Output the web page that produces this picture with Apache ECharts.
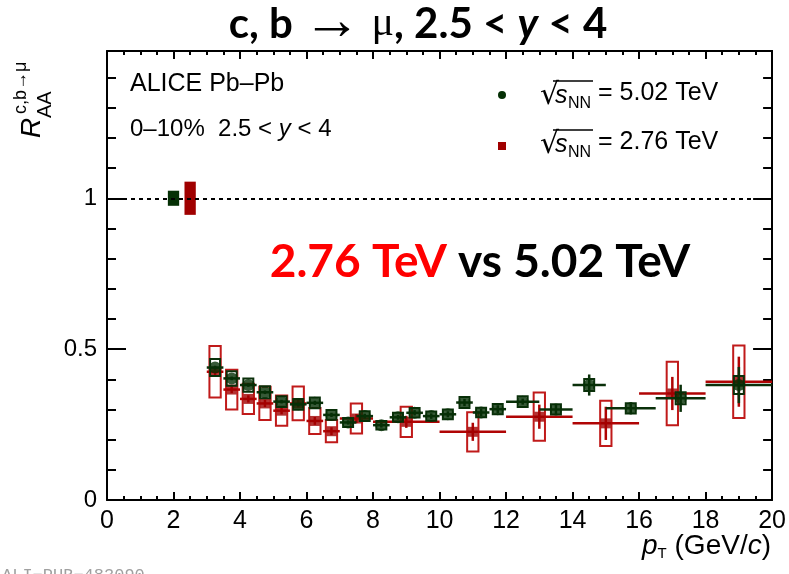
<!DOCTYPE html>
<html>
<head>
<meta charset="utf-8">
<script src="https://cdn.jsdelivr.net/npm/echarts@6/dist/echarts.min.js"></script>
<style>
html, body { margin: 0; padding: 0; background: #ffffff; }
#chart { width: 789px; height: 574px; }
</style>
</head>
<body>
<div id="chart"></div>
<script>
// sqrt(sNN) = 5.02 TeV: bin centres, bin edges, R_AA, stat. and syst. uncertainties
const pt502    = [3.25, 3.75, 4.25, 4.75, 5.25, 5.75, 6.25, 6.75, 7.25, 7.75, 8.25, 8.75, 9.25, 9.75, 10.25, 10.75, 11.25, 11.75, 12.5, 13.5, 14.5, 15.75, 17.25, 19];
const ptLo502  = [3, 3.5, 4, 4.5, 5, 5.5, 6, 6.5, 7, 7.5, 8, 8.5, 9, 9.5, 10, 10.5, 11, 11.5, 12, 13, 14, 15, 16.5, 18];
const ptHi502  = [3.5, 4, 4.5, 5, 5.5, 6, 6.5, 7, 7.5, 8, 8.5, 9, 9.5, 10, 10.5, 11, 11.5, 12, 13, 14, 15, 16.5, 18, 20];
const raa502   = [0.439, 0.403, 0.381, 0.357, 0.326, 0.317, 0.322, 0.282, 0.257, 0.278, 0.248, 0.274, 0.289, 0.278, 0.284, 0.323, 0.290, 0.301, 0.326, 0.300, 0.381, 0.304, 0.337, 0.381];
const stat502  = [0.006, 0.006, 0.006, 0.006, 0.006, 0.006, 0.007, 0.007, 0.007, 0.008, 0.008, 0.008, 0.009, 0.009, 0.010, 0.012, 0.012, 0.013, 0.010, 0.015, 0.035, 0.020, 0.045, 0.060];
const syst502  = [0.028, 0.024, 0.022, 0.020, 0.018, 0.018, 0.018, 0.016, 0.015, 0.016, 0.014, 0.015, 0.016, 0.015, 0.016, 0.018, 0.016, 0.017, 0.018, 0.017, 0.020, 0.017, 0.020, 0.030];

// sqrt(sNN) = 2.76 TeV
const pt276    = [3.25, 3.75, 4.25, 4.75, 5.25, 5.75, 6.25, 6.75, 7.5, 9, 11, 13, 15, 17, 19];
const ptLo276  = [3, 3.5, 4, 4.5, 5, 5.5, 6, 6.5, 7, 8, 10, 12, 14, 16, 18];
const ptHi276  = [3.5, 4, 4.5, 5, 5.5, 6, 6.5, 7, 8, 10, 12, 14, 16, 18, 20];
const raa276   = [0.425, 0.366, 0.335, 0.320, 0.296, 0.320, 0.262, 0.228, 0.270, 0.259, 0.226, 0.276, 0.254, 0.353, 0.392];
const stat276  = [0.012, 0.012, 0.012, 0.012, 0.012, 0.013, 0.013, 0.013, 0.015, 0.020, 0.030, 0.040, 0.055, 0.055, 0.083];
const syst276  = [0.085, 0.066, 0.050, 0.055, 0.050, 0.056, 0.043, 0.037, 0.050, 0.050, 0.065, 0.080, 0.075, 0.105, 0.120];

// normalisation uncertainties (boxes at unity)
const normUnc502 = 0.025;
const normUnc276 = 0.055;

// axis ticks
const xTicks = [0, 2, 4, 6, 8, 10, 12, 14, 16, 18, 20];
const yTickLabels = ['0', '0.5', '1'];

const GREEN = '#053005';
const GREEN_LINE = '#0a300a';
const RED = '#a00000';
const RED_LINE = '#b00404';
const RED_BOX = '#c01a1a';
const FONT = '"Liberation Sans", Arial, Helvetica, sans-serif';
const TITLE_FONT = 'Lato, "Open Sans", sans-serif';

const chart = echarts.init(document.getElementById('chart'), null, { renderer: 'canvas' });

function rows(pt, lo, hi, val, st, sy) {
  return pt.map((p, i) => [p, val[i], lo[i], hi[i], st[i], sy[i]]);
}
const data502 = rows(pt502, ptLo502, ptHi502, raa502, stat502, syst502);
const data276 = rows(pt276, ptLo276, ptHi276, raa276, stat276, syst276);

// systematic boxes: open rectangles of fixed pT half-width
function systBox(color, halfW, lw) {
  return function (params, api) {
    const x = api.value(0), y = api.value(1), s = api.value(5);
    const a = api.coord([x - halfW, y + s]);
    const b = api.coord([x + halfW, y - s]);
    return {
      type: 'rect',
      shape: { x: a[0], y: a[1], width: b[0] - a[0], height: b[1] - a[1] },
      style: { fill: 'none', stroke: color, lineWidth: lw }
    };
  };
}

// statistical error bars with horizontal bin-width bars
function errBars(color, lw) {
  return function (params, api) {
    const x = api.value(0), y = api.value(1), lo = api.value(2), hi = api.value(3), st = api.value(4);
    const l = api.coord([lo, y]), r = api.coord([hi, y]);
    const t = api.coord([x, y + st]), b = api.coord([x, y - st]);
    return {
      type: 'group',
      children: [
        { type: 'line', shape: { x1: l[0], y1: l[1], x2: r[0], y2: r[1] }, style: { stroke: color, lineWidth: lw } },
        { type: 'line', shape: { x1: t[0], y1: t[1], x2: b[0], y2: b[1] }, style: { stroke: color, lineWidth: lw } }
      ]
    };
  };
}

// filled normalisation box at R_AA = 1
function normBox(color, xc, halfW) {
  return function (params, api) {
    const u = api.value(1);
    const a = api.coord([xc - halfW, 1 + u]);
    const b = api.coord([xc + halfW, 1 - u]);
    return {
      type: 'rect',
      shape: { x: a[0], y: a[1], width: b[0] - a[0], height: b[1] - a[1] },
      style: { fill: color }
    };
  };
}

const baseAxisX = {
  type: 'value', min: 0, max: 20, interval: 2,
  axisLine: { show: true, onZero: false, lineStyle: { color: '#000', width: 2 } },
  axisTick: { show: true, inside: true, length: 8, lineStyle: { color: '#000', width: 2 } },
  minorTick: { show: true, splitNumber: 4, length: 4, lineStyle: { color: '#000', width: 2 } },
  splitLine: { show: false },
  minorSplitLine: { show: false }
};
const baseAxisY = {
  type: 'value', min: 0, max: 1.488, interval: 0.5,
  axisLine: { show: true, onZero: false, lineStyle: { color: '#000', width: 2 } },
  axisTick: { show: true, inside: true, length: 19, lineStyle: { color: '#000', width: 2 } },
  minorTick: { show: true, splitNumber: 5, length: 9, lineStyle: { color: '#000', width: 2 } },
  splitLine: { show: false },
  minorSplitLine: { show: false }
};

const option = {
  animation: false,
  backgroundColor: '#ffffff',
  grid: { left: 107, right: 13, top: 51, bottom: 74, containLabel: false },
  xAxis: [
    Object.assign({}, baseAxisX, {
      position: 'bottom',
      axisLabel: {
        show: true, margin: 9, color: '#000', fontSize: 25, fontFamily: FONT,
        formatter: v => (xTicks.indexOf(v) >= 0 ? String(v) : '')
      }
    }),
    Object.assign({}, baseAxisX, { position: 'top', axisLabel: { show: false } })
  ],
  yAxis: [
    Object.assign({}, baseAxisY, {
      position: 'left',
      axisLabel: {
        show: true, margin: 10, color: '#000', fontSize: 24, fontFamily: FONT,
        showMaxLabel: false,
        formatter: v => {
          const s = String(Math.round(v * 10) / 10);
          return yTickLabels.indexOf(s) >= 0 ? s : '';
        }
      }
    }),
    Object.assign({}, baseAxisY, { position: 'right', axisLabel: { show: false } })
  ],
  series: [
    {
      type: 'custom', name: 'norm502', xAxisIndex: 0, yAxisIndex: 0, z: 3,
      renderItem: normBox(GREEN, 2.0, 0.17), data: [[2.0, normUnc502]],
      markLine: {
        silent: true, symbol: 'none', label: { show: false },
        lineStyle: { color: '#000', width: 2, type: [4, 4] },
        data: [{ yAxis: 1 }]
      }
    },
    { type: 'custom', name: 'norm276', z: 3, renderItem: normBox(RED, 2.5, 0.17), data: [[2.5, normUnc276]] },
    { type: 'custom', name: 'syst276', z: 4, renderItem: systBox(RED_BOX, 0.17, 2), data: data276, clip: true },
    { type: 'custom', name: 'err276', z: 5, renderItem: errBars(RED_LINE, 2.5), data: data276, clip: true },
    {
      type: 'scatter', name: '2.76', z: 6, symbol: 'rect', symbolSize: 10,
      itemStyle: { color: RED }, data: data276.map(d => [d[0], d[1]])
    },
    { type: 'custom', name: 'syst502', z: 7, renderItem: systBox(GREEN_LINE, 0.15, 2), data: data502, clip: true },
    { type: 'custom', name: 'err502', z: 8, renderItem: errBars(GREEN_LINE, 2.5), data: data502, clip: true },
    {
      type: 'scatter', name: '5.02', z: 9, symbol: 'circle', symbolSize: 12,
      itemStyle: { color: GREEN }, data: data502.map(d => [d[0], d[1]])
    }
  ],
  graphic: [
    // title
    {
      type: 'text', x: 418, y: 24, z: 20,
      style: {
        text: '{b|c, b }{a|→}{n| μ}{b|, 2.5 < }{i|y}{b| < 4}',
        align: 'center', verticalAlign: 'middle',
        fill: '#000',
        rich: {
          b: { fontFamily: TITLE_FONT, fontWeight: 'bold', fontSize: 42, fill: '#000' },
          a: { fontFamily: '"Liberation Serif", serif', fontWeight: 'normal', fontSize: 58, fill: '#000' },
          n: { fontFamily: '"Liberation Serif", serif', fontWeight: 'normal', fontSize: 42, fill: '#000' },
          i: { fontFamily: TITLE_FONT, fontWeight: 'bold', fontStyle: 'italic', fontSize: 42, fill: '#000' }
        }
      }
    },
    // in-plot caption
    {
      type: 'text', x: 130, y: 84, z: 20,
      style: { text: 'ALICE Pb–Pb', font: '25px ' + FONT, fill: '#000', verticalAlign: 'middle' }
    },
    {
      type: 'text', x: 130, y: 129, z: 20,
      style: {
        text: '{r|0–10%  2.5 < }{i|y}{r| < 4}', verticalAlign: 'middle',
        rich: {
          r: { fontFamily: FONT, fontSize: 24, fill: '#000' },
          i: { fontFamily: FONT, fontStyle: 'italic', fontSize: 24, fill: '#000' }
        }
      }
    },
    // legend
    { type: 'circle', shape: { cx: 502, cy: 95, r: 4 }, style: { fill: GREEN }, z: 20 },
    { type: 'rect', shape: { x: 498, y: 142, width: 8, height: 8 }, style: { fill: RED }, z: 20 },
    { type: 'text', x: 540, y: 96, z: 20, style: { text: '√', font: '30px "DejaVu Sans"', fill: '#000', verticalAlign: 'middle' } },
    { type: 'line', shape: { x1: 553, y1: 81, x2: 593, y2: 81 }, style: { stroke: '#000', lineWidth: 1.5 }, z: 20 },
    { type: 'text', x: 555, y: 96, z: 20, style: { text: 's', font: 'italic 25px ' + FONT, fill: '#000', verticalAlign: 'middle' } },
    { type: 'text', x: 568, y: 104, z: 20, style: { text: 'NN', font: '16px ' + FONT, fill: '#000', verticalAlign: 'middle' } },
    { type: 'text', x: 598, y: 93, z: 20, style: { text: '= 5.02 TeV', font: '25px ' + FONT, fill: '#000', verticalAlign: 'middle' } },
    { type: 'text', x: 540, y: 145, z: 20, style: { text: '√', font: '30px "DejaVu Sans"', fill: '#000', verticalAlign: 'middle' } },
    { type: 'line', shape: { x1: 553, y1: 130, x2: 593, y2: 130 }, style: { stroke: '#000', lineWidth: 1.5 }, z: 20 },
    { type: 'text', x: 555, y: 145, z: 20, style: { text: 's', font: 'italic 25px ' + FONT, fill: '#000', verticalAlign: 'middle' } },
    { type: 'text', x: 568, y: 153, z: 20, style: { text: 'NN', font: '16px ' + FONT, fill: '#000', verticalAlign: 'middle' } },
    { type: 'text', x: 598, y: 142, z: 20, style: { text: '= 2.76 TeV', font: '25px ' + FONT, fill: '#000', verticalAlign: 'middle' } },
    // comparison annotation
    {
      type: 'text', x: 480, y: 262, z: 20,
      style: {
        text: '{r|2.76 TeV}{k| vs 5.02 TeV}', align: 'center', verticalAlign: 'middle',
        rich: {
          r: { fontFamily: TITLE_FONT, fontWeight: 'bold', fontSize: 46, fill: '#ff0000' },
          k: { fontFamily: TITLE_FONT, fontWeight: 'bold', fontSize: 46, fill: '#000' }
        }
      }
    },
    // y-axis title, rotated to read bottom-up
    {
      type: 'group', x: 32, y: 138, rotation: Math.PI / 2, z: 20,
      children: [
        { type: 'text', x: 0, y: 0, style: { text: 'R', font: 'italic 28px ' + FONT, fill: '#000', verticalAlign: 'middle' } },
        { type: 'text', x: 24, y: -11, style: { text: 'c,b→μ', font: '18px ' + FONT, fill: '#000', verticalAlign: 'middle' } },
        { type: 'text', x: 20, y: 13, style: { text: 'AA', font: '20px ' + FONT, fill: '#000', verticalAlign: 'middle' } }
      ]
    },
    // x-axis title
    {
      type: 'text', right: 18, top: 532, z: 20,
      style: {
        text: '{i|p}{s|T}{r| (GeV/}{i|c}{r|)}',
        rich: {
          i: { fontFamily: FONT, fontStyle: 'italic', fontSize: 28, fill: '#000' },
          s: { fontFamily: FONT, fontSize: 15, fill: '#000', verticalAlign: 'bottom', padding: [16, 0, 0, 0] },
          r: { fontFamily: FONT, fontSize: 28, fill: '#000' }
        }
      }
    },
    // figure reference tag
    {
      type: 'text', x: 2, y: 567, z: 20,
      style: { text: 'ALI−PUB−483090', font: '17px "Liberation Mono"', fill: '#a0a0a0' }
    }
  ]
};

chart.setOption(option);
</script>
</body>
</html>
